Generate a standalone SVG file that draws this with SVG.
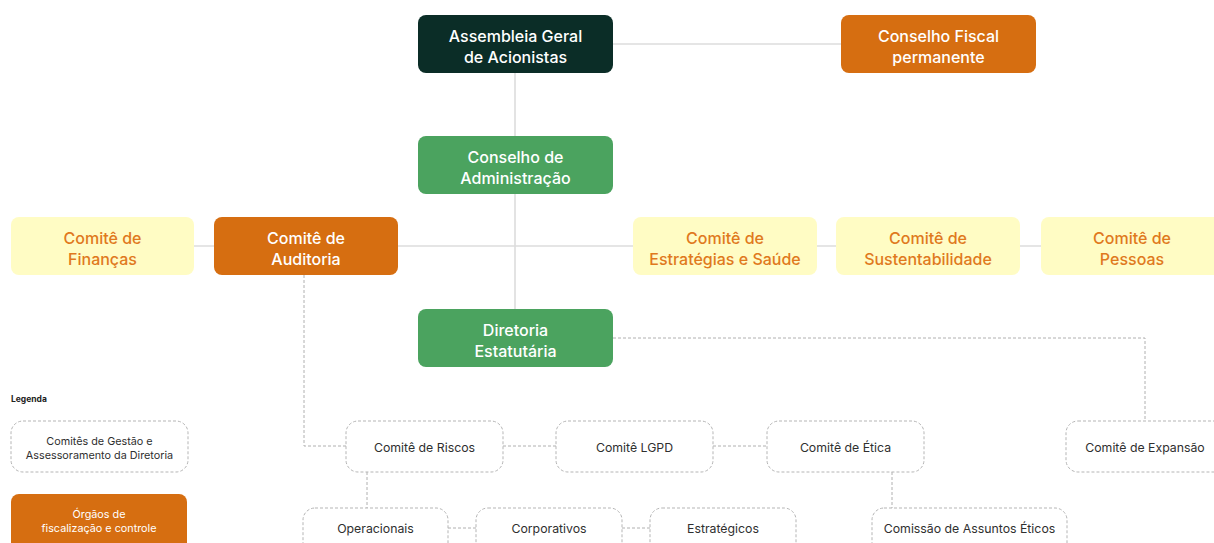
<svg xmlns="http://www.w3.org/2000/svg" width="1214" height="543" viewBox="0 0 1214 543">
<style>
text{font-family:Inter,"Noto Sans","Liberation Sans",sans-serif;text-anchor:middle}
.main{font-size:16px;font-weight:500;fill:#ffffff}
.yel{font-size:16px;font-weight:500;fill:#e0791d}
.sm{font-size:12.3px;font-weight:400;fill:#2f2f2f}
.lg{font-size:10.8px;font-weight:400;fill:#2f2f2f}
.lgw{font-size:10.8px;font-weight:400;fill:#ffffff}
.dark{fill:#0b2d27}
.green{fill:#4ba35f}
.orange{fill:#d66e11}
.yellow{fill:#fffcc4}
.dbox{fill:#ffffff;stroke:#b5b5b5;stroke-width:1;stroke-dasharray:3 2}
.solid{stroke:#dcdcdc;stroke-width:1.6;fill:none}
.dash{stroke:#b0b0b0;stroke-width:1;stroke-dasharray:3 2;fill:none}
</style>
<rect width="1214" height="543" fill="#ffffff"/>
<g id="connectors">
<line class="solid" x1="613" y1="44" x2="841" y2="44"/>
<line class="solid" x1="515" y1="73" x2="515" y2="309"/>
<line class="solid" x1="194" y1="246" x2="1041" y2="246"/>
<polyline class="dash" points="613,338 1145,338 1145,421"/>
<polyline class="dash" points="304,275 304,446 346,446"/>
<line class="dash" x1="503" y1="446" x2="556" y2="446"/>
<line class="dash" x1="713" y1="446" x2="767" y2="446"/>
<line class="dash" x1="367" y1="472" x2="367" y2="508"/>
<line class="dash" x1="892" y1="472" x2="892" y2="508"/>
<line class="dash" x1="448" y1="528" x2="476" y2="528"/>
<line class="dash" x1="622" y1="528" x2="650" y2="528"/>
</g>
<g id="assembleia"><rect class="dark" x="418" y="15" width="195" height="58" rx="8"/><text class="main" x="515.5" y="41.5">Assembleia Geral</text><text class="main" x="515.5" y="62.5">de Acionistas</text></g>
<g id="conselho-fiscal"><rect class="orange" x="841" y="15" width="195" height="58" rx="8"/><text class="main" x="938.5" y="41.5">Conselho Fiscal</text><text class="main" x="938.5" y="62.5">permanente</text></g>
<g id="conselho-admin"><rect class="green" x="418" y="136" width="195" height="58" rx="8"/><text class="main" x="515.5" y="162.5">Conselho de</text><text class="main" x="515.5" y="183.5">Administração</text></g>
<g id="financas"><rect class="yellow" x="11" y="217" width="183" height="58" rx="8"/><text class="yel" x="102.5" y="243.5">Comitê de</text><text class="yel" x="102.5" y="264.5">Finanças</text></g>
<g id="auditoria"><rect class="orange" x="214" y="217" width="184" height="58" rx="8"/><text class="main" x="306" y="243.5">Comitê de</text><text class="main" x="306" y="264.5">Auditoria</text></g>
<g id="estrategias"><rect class="yellow" x="633" y="217" width="184" height="58" rx="8"/><text class="yel" x="725" y="243.5">Comitê de</text><text class="yel" x="725" y="264.5">Estratégias e Saúde</text></g>
<g id="sustentabilidade"><rect class="yellow" x="836" y="217" width="184" height="58" rx="8"/><text class="yel" x="928" y="243.5">Comitê de</text><text class="yel" x="928" y="264.5">Sustentabilidade</text></g>
<g id="pessoas"><rect class="yellow" x="1041" y="217" width="190" height="58" rx="8"/><text class="yel" x="1132" y="243.5">Comitê de</text><text class="yel" x="1132" y="264.5">Pessoas</text></g>
<g id="diretoria"><rect class="green" x="418" y="309" width="195" height="58" rx="8"/><text class="main" x="515.5" y="335.5">Diretoria</text><text class="main" x="515.5" y="356.5">Estatutária</text></g>
<g id="riscos"><rect class="dbox" x="346" y="421" width="157" height="51" rx="12"/><text class="sm" x="424.5" y="452">Comitê de Riscos</text></g>
<g id="lgpd"><rect class="dbox" x="556" y="421" width="157" height="51" rx="12"/><text class="sm" x="634.5" y="452">Comitê LGPD</text></g>
<g id="etica"><rect class="dbox" x="767" y="421" width="157" height="51" rx="12"/><text class="sm" x="845.5" y="452">Comitê de Ética</text></g>
<g id="expansao"><rect class="dbox" x="1066" y="421" width="170" height="51" rx="12"/><text class="sm" x="1145" y="452">Comitê de Expansão</text></g>
<g id="operacionais"><rect class="dbox" x="303" y="508" width="145" height="50" rx="12"/><text class="sm" x="375.5" y="532.5">Operacionais</text></g>
<g id="corporativos"><rect class="dbox" x="476" y="508" width="146" height="50" rx="12"/><text class="sm" x="549" y="532.5">Corporativos</text></g>
<g id="estrategicos"><rect class="dbox" x="650" y="508" width="146" height="50" rx="12"/><text class="sm" x="723" y="532.5">Estratégicos</text></g>
<g id="comissao"><rect class="dbox" x="872" y="508" width="195" height="50" rx="12"/><text class="sm" x="969.5" y="532.5">Comissão de Assuntos Éticos</text></g>
<g id="legenda">
<text x="11" y="402" style="text-anchor:start;font-size:8.5px;font-weight:700;fill:#222">Legenda</text>
<rect class="dbox" x="11" y="421" width="177" height="51" rx="12"/>
<text class="lg" x="99.5" y="444.5">Comitês de Gestão e</text>
<text class="lg" x="99.5" y="459">Assessoramento da Diretoria</text>
<rect class="orange" x="11" y="494" width="176" height="60" rx="8"/>
<text class="lgw" x="99" y="517.5">Órgãos de</text>
<text class="lgw" x="99" y="532">fiscalização e controle</text>
</g>
</svg>
